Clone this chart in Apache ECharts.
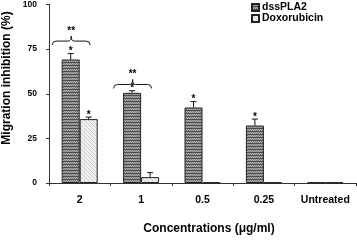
<!DOCTYPE html>
<html>
<head>
<meta charset="utf-8">
<script src="https://cdn.jsdelivr.net/npm/echarts@6/dist/echarts.min.js"></script>
<style>
html,body{margin:0;padding:0;background:#fff;}
#chart{width:357px;height:240px;}
</style>
</head>
<body>
<div id="chart"></div>
<script>
// ---- data ----
var categories = ['2', '1', '0.5', '0.25', 'Untreated'];
var dssValues = [69.2, 50.5, 42.3, 32.2, 0.3];
var dssErrors = [3.3, 1.2, 3.3, 3.6, 0];
var dssSig = ['*', '*', '*', '*', ''];
var doxValues = [35.8, 3.3, 0.3, 0.3, 0.3];
var doxErrors = [1.1, 2.5, 0, 0, 0];
var doxSig = ['*', '', '', '', ''];
var bracketCats = ['2', '1'];
var bracketValues = [79.5, 55.2];
var bracketLabels = ['**', '**'];
var yTicks = [0, 25, 50, 75, 100];
var seriesNames = ['dssPLA2', 'Doxorubicin'];

// ---- patterns ----
function makeDssPattern() {
  var c = document.createElement('canvas');
  c.width = 4; c.height = 3;
  var g = c.getContext('2d');
  g.fillStyle = '#7c7c7c'; g.fillRect(0, 0, 4, 3);
  g.fillStyle = '#b0b0b0'; g.fillRect(0, 0, 1, 1); g.fillRect(2, 0, 1, 1); g.fillRect(1, 1, 1, 1); g.fillRect(3, 1, 1, 1);
  g.fillStyle = '#4c4c4c'; g.fillRect(0, 2, 4, 1);
  return { image: c, repeat: 'repeat' };
}
function makeDoxPattern() {
  var c = document.createElement('canvas');
  c.width = 4; c.height = 4;
  var g = c.getContext('2d');
  g.fillStyle = '#f0f0f0'; g.fillRect(0, 0, 4, 4);
  g.fillStyle = '#c0c0c0'; g.fillRect(0, 0, 1, 1); g.fillRect(2, 2, 1, 1);
  g.fillStyle = '#d8d8d8'; g.fillRect(1, 1, 1, 1); g.fillRect(3, 3, 1, 1);
  return { image: c, repeat: 'repeat' };
}
var dssPattern = makeDssPattern();
var doxPattern = makeDoxPattern();

var BAR_W = 18;

function errData(vals, errs, sig) {
  return vals.map(function (v, i) { return [i, v, errs[i], sig[i]]; });
}

function errRender(offset) {
  return function (params, api) {
    var cat = api.value(0), v = api.value(1), e = api.value(2);
    var sig = api.value(3);
    var base = api.coord([cat, v]);
    var top = api.coord([cat, v + e]);
    var x = base[0] + offset;
    var children = [];
    if (e > 0) {
      children.push({ type: 'line', shape: { x1: x, y1: base[1], x2: x, y2: top[1] }, style: { stroke: '#111', lineWidth: 1 } });
      children.push({ type: 'line', shape: { x1: x - 3, y1: top[1], x2: x + 3, y2: top[1] }, style: { stroke: '#111', lineWidth: 1 } });
    }
    if (sig) {
      children.push({ type: 'text', style: { text: sig, x: x, y: top[1] - 2, align: 'center', verticalAlign: 'middle', font: 'bold 10px "Liberation Sans", Arial, sans-serif', fill: '#000' } });
    }
    return { type: 'group', children: children };
  };
}

function bracketRender(params, api) {
  var cat = api.value(0), v = api.value(1);
  var p = api.coord([cat, v]);
  var xc = p[0] - 8.5, y0 = p[1];
  var x0 = xc - 19, x1 = xc + 19;
  var path = 'M' + x0 + ',' + (y0 + 4) + ' Q' + x0 + ',' + y0 + ' ' + (x0 + 4) + ',' + y0 +
    ' L' + (xc - 3) + ',' + y0 + ' Q' + xc + ',' + y0 + ' ' + xc + ',' + (y0 - 5) +
    ' Q' + xc + ',' + y0 + ' ' + (xc + 3) + ',' + y0 +
    ' L' + (x1 - 4) + ',' + y0 + ' Q' + x1 + ',' + y0 + ' ' + x1 + ',' + (y0 + 4);
  return {
    type: 'group',
    children: [
      { type: 'path', shape: { pathData: path }, style: { stroke: '#111', lineWidth: 1, fill: null } },
      { type: 'text', style: { text: api.value(2), x: xc, y: y0 - 10, align: 'center', verticalAlign: 'middle', font: 'bold 10px "Liberation Sans", Arial, sans-serif', fill: '#000' } }
    ]
  };
}

var chart = echarts.init(document.getElementById('chart'));
var FONT = '"Liberation Sans", Arial, sans-serif';
chart.setOption({
  animation: false,
  backgroundColor: '#fff',
  grid: { left: 49, right: 1, top: 4, bottom: 52, containLabel: false },
  legend: {
    data: seriesNames,
    orient: 'vertical',
    left: 246, top: -3,
    itemWidth: 7, itemHeight: 7, itemGap: 0,
    icon: 'rect',
    textStyle: { fontFamily: FONT, fontWeight: 'bold', fontSize: 10.5, color: '#000', lineHeight: 10.5, padding: [0, 0, 0, -2] }
  },
  xAxis: {
    type: 'category',
    data: categories,
    name: 'Concentrations (μg/ml)',
    nameLocation: 'middle',
    nameGap: 40,
    nameTextStyle: { fontFamily: FONT, fontWeight: 'bold', fontSize: 12, color: '#000', padding: [0, 0, 0, 13] },
    axisLine: { lineStyle: { color: '#333', width: 1 } },
    axisTick: { show: true, alignWithLabel: false, length: 3, lineStyle: { color: '#333' } },
    axisLabel: { interval: 0, fontFamily: FONT, fontWeight: 'bold', fontSize: 10.5, color: '#000', margin: 12 }
  },
  yAxis: {
    type: 'value',
    min: yTicks[0], max: yTicks[yTicks.length - 1], interval: 25,
    splitLine: { show: false },
    axisLine: { show: true, lineStyle: { color: '#333', width: 1 } },
    axisTick: { show: true, length: 3, lineStyle: { color: '#333' } },
    axisLabel: { fontFamily: FONT, fontWeight: 'bold', fontSize: 8.5, color: '#000', margin: 12 }
  },
  graphic: [{
    type: 'text',
    x: 7, y: 78,
    rotation: Math.PI / 2,
    style: { text: 'Migration inhibition (%)', align: 'center', verticalAlign: 'middle', font: 'bold 12px ' + FONT, fill: '#000' }
  }],
  series: [
    {
      name: seriesNames[0], type: 'bar', data: dssValues,
      barWidth: BAR_W, barGap: '0%',
      itemStyle: { color: dssPattern, borderColor: '#222', borderWidth: 1 }
    },
    {
      name: seriesNames[1], type: 'bar', data: doxValues,
      barWidth: BAR_W, barGap: '0%',
      itemStyle: { color: doxPattern, borderColor: '#222', borderWidth: 1 }
    },
    { type: 'custom', data: errData(dssValues, dssErrors, dssSig), renderItem: errRender(-BAR_W / 2), z: 5, silent: true },
    { type: 'custom', data: errData(doxValues, doxErrors, doxSig), renderItem: errRender(BAR_W / 2), z: 5, silent: true },
    {
      type: 'custom', z: 5, silent: true,
      data: bracketCats.map(function (c, i) { return [categories.indexOf(c), bracketValues[i], bracketLabels[i]]; }),
      renderItem: bracketRender
    }
  ]
});
</script>
</body>
</html>
